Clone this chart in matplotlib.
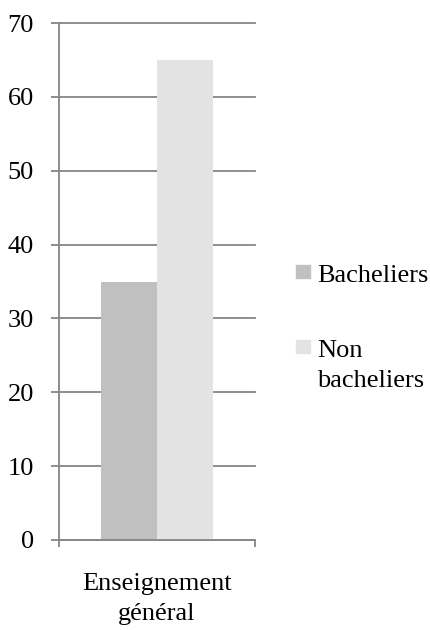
import matplotlib
matplotlib.use("Agg")
import matplotlib.pyplot as plt
from matplotlib.patches import Rectangle

plt.rcParams['font.family'] = ['Liberation Serif', 'DejaVu Serif']

category = "Enseignement\ngénéral"
series = ["Bacheliers", "Non\nbacheliers"]
values = [35, 65]
colors = ["#c0c0c0", "#e3e3e3"]
yticks = [0, 10, 20, 30, 40, 50, 60, 70]

W, H = 431, 630
fig = plt.figure(figsize=(W / 100, H / 100), dpi=100)
ax = fig.add_axes([59 / W, 1 - 540 / H, (255 - 59) / W, (540 - 23) / H])

grid = "#868686"
fs = 19
pitch = 30  # pixels between text lines
bw = 0.288
for i, (v, c) in enumerate(zip(values, colors)):
    ax.bar(0.5 + (i - 0.5) * bw, v, width=bw, color=c, zorder=2)

ax.set_xlim(0, 1)
ax.set_ylim(0, 70)
ax.set_yticks(yticks)
ax.yaxis.grid(True, color=grid, linewidth=1.3, zorder=1)
for gl in ax.get_ygridlines():
    gl.set_clip_on(False)
ax.set_axisbelow(True)
ax.tick_params(axis='y', length=6, width=1.3, color=grid, pad=12, labelsize=fs)
ax.set_xticks([0, 1])
ax.set_xticklabels([])
ax.tick_params(axis='x', length=5, width=1.3, color=grid)
for s in ['top', 'right']:
    ax.spines[s].set_visible(False)
for s in ['left', 'bottom']:
    ax.spines[s].set_color(grid)
    ax.spines[s].set_linewidth(1.3)


def put_lines(x, y0, text, ha):
    # one text per line, baselines `pitch` pixels apart
    for k, line in enumerate(text.split("\n")):
        fig.text(x / W, 1 - (y0 + k * pitch) / H, line, ha=ha,
                 va='baseline', fontsize=fs)


put_lines(157, 590, category, 'center')

# legend drawn by hand so the key sits beside the first line of each label
leg_base = [282, 357]
for name, c, y in zip(series, colors, leg_base):
    fig.add_artist(Rectangle((296 / W, 1 - (y - 4) / H), 14 / W, 13 / H,
                             color=c, transform=fig.transFigure))
    put_lines(317, y, name, 'left')

fig.savefig("out.png", dpi=100)
